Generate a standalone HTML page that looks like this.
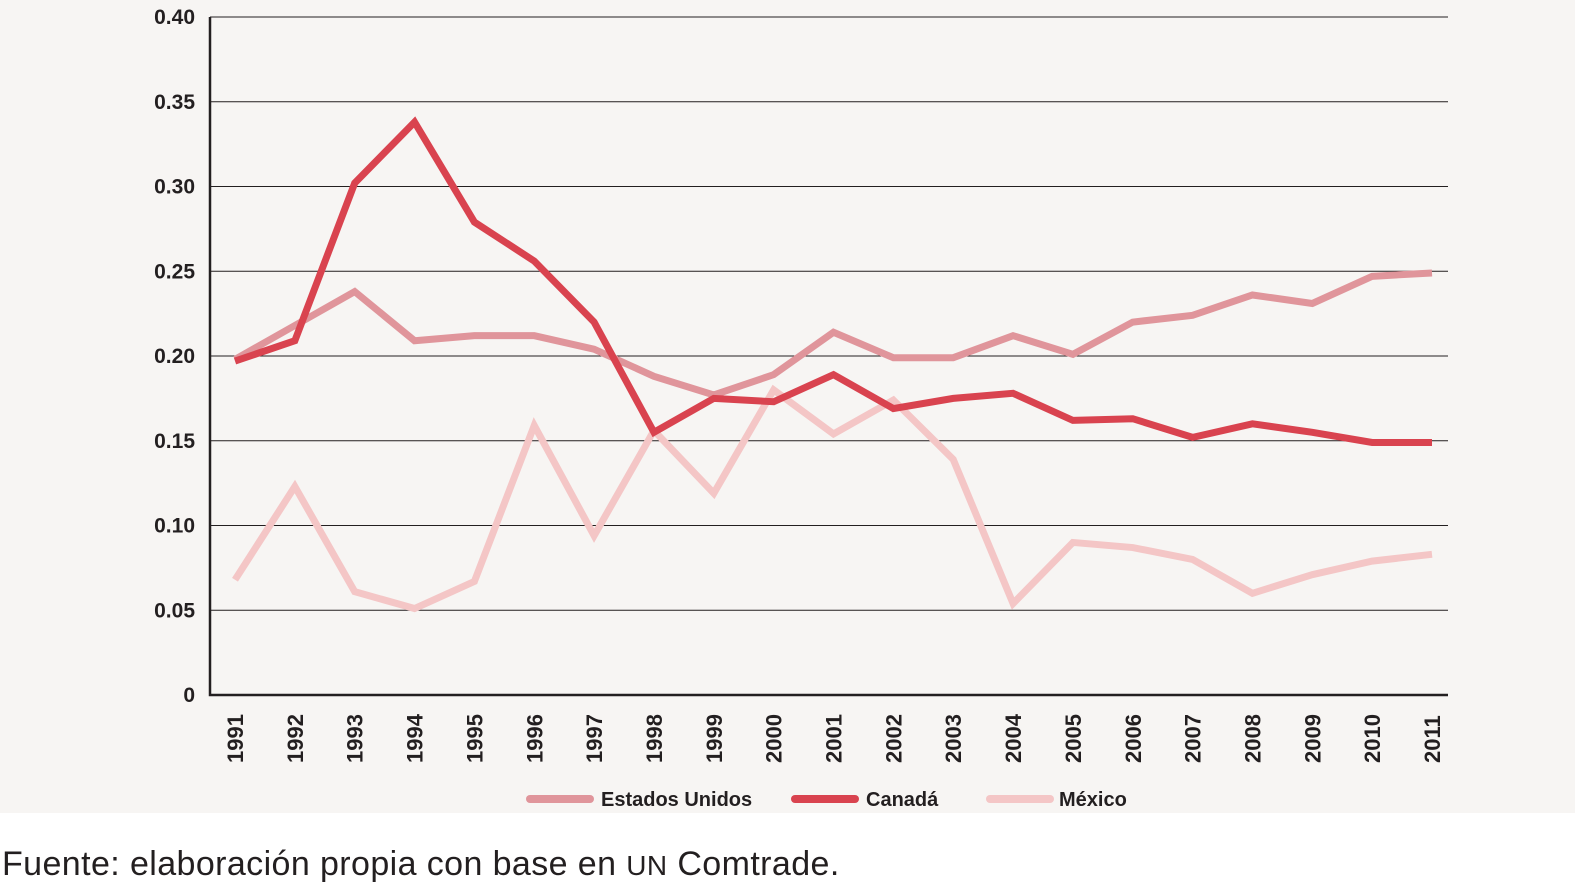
<!DOCTYPE html>
<html><head><meta charset="utf-8"><style>
body{margin:0;width:1575px;height:886px;background:#fff;overflow:hidden;font-family:"Liberation Sans",sans-serif}
#bg{position:absolute;left:0;top:0;width:1575px;height:813px;background:#f7f5f3}
svg{position:absolute;left:0;top:0}
#src{position:absolute;left:2px;top:845px;font-size:34px;color:#231f20;letter-spacing:0.4px}
</style></head><body>
<div id="bg"></div>
<svg id="chart" width="1575" height="813"></svg>
<div id="src">Fuente: elaboración propia con base en <span style="font-size:28px">UN</span> Comtrade.</div>
<script>
const years=["1991","1992","1993","1994","1995","1996","1997","1998","1999","2000","2001","2002","2003","2004","2005","2006","2007","2008","2009","2010","2011"];
const eeuu=[.198,.218,.238,.209,.212,.212,.204,.188,.177,.189,.214,.199,.199,.212,.201,.220,.224,.236,.231,.247,.249];
const canada=[.197,.209,.302,.338,.279,.256,.220,.155,.175,.173,.189,.169,.175,.178,.162,.163,.152,.160,.155,.149,.149];
const mexico=[.068,.123,.061,.051,.067,.159,.094,.156,.119,.180,.154,.174,.139,.054,.090,.087,.080,.060,.071,.079,.083];
const yTicks=[0,.05,.10,.15,.20,.25,.30,.35,.40];
const yLabels=["0","0.05","0.10","0.15","0.20","0.25","0.30","0.35","0.40"];
const NS="http://www.w3.org/2000/svg",svg=document.getElementById('chart');
const X=i=>235+i*(1432-235)/(years.length-1);
const Y=v=>695-v*(695-17)/0.40;
function mk(t,a){const e=document.createElementNS(NS,t);for(const k in a)e.setAttribute(k,a[k]);svg.appendChild(e);return e;}
yTicks.forEach((v,i)=>{
 if(v>0){const g=mk('line',{x1:210,x2:1448,y1:Y(v),y2:Y(v),stroke:'#231f20','stroke-width':1});
 
 }
 const t=mk('text',{x:195,y:Y(v)+7,'text-anchor':'end','font-size':21,'font-weight':'bold',fill:'#231f20'});
 t.textContent=yLabels[i];
 
 
});
const ax=mk('path',{d:'M210 17 V695 H1448',fill:'none',stroke:'#231f20','stroke-width':2.5});


years.forEach((y,i)=>{
 const t=mk('text',{transform:`translate(${X(i)+8},763) rotate(-90)`,'font-size':22,'font-weight':'bold',fill:'#231f20'});
 t.textContent=y;
 
 
});
function line(d,c,n){const p=mk('polyline',{points:d.map((v,i)=>X(i)+','+Y(v)).join(' '),fill:'none',stroke:c,'stroke-width':7,'stroke-linejoin':'miter'});
 
 }
line(mexico,'#f4c6c6','series-mexico');
line(eeuu,'#e0959b','series-estados-unidos');
line(canada,'#d9434f','series-canada');
[["Estados Unidos",'#e0959b',530,601],["Canadá",'#d9434f',795,866],["México",'#f4c6c6',990,1059]].forEach(l=>{
 const s=mk('line',{x1:l[2],x2:l[2]+60,y1:799,y2:799,stroke:l[1],'stroke-width':8,'stroke-linecap':'round'});
 
 
 const t=mk('text',{x:l[3],y:806,'font-size':20,'font-weight':'bold',fill:'#231f20'});
 t.textContent=l[0];
 
 
});
</script>
</body></html>
